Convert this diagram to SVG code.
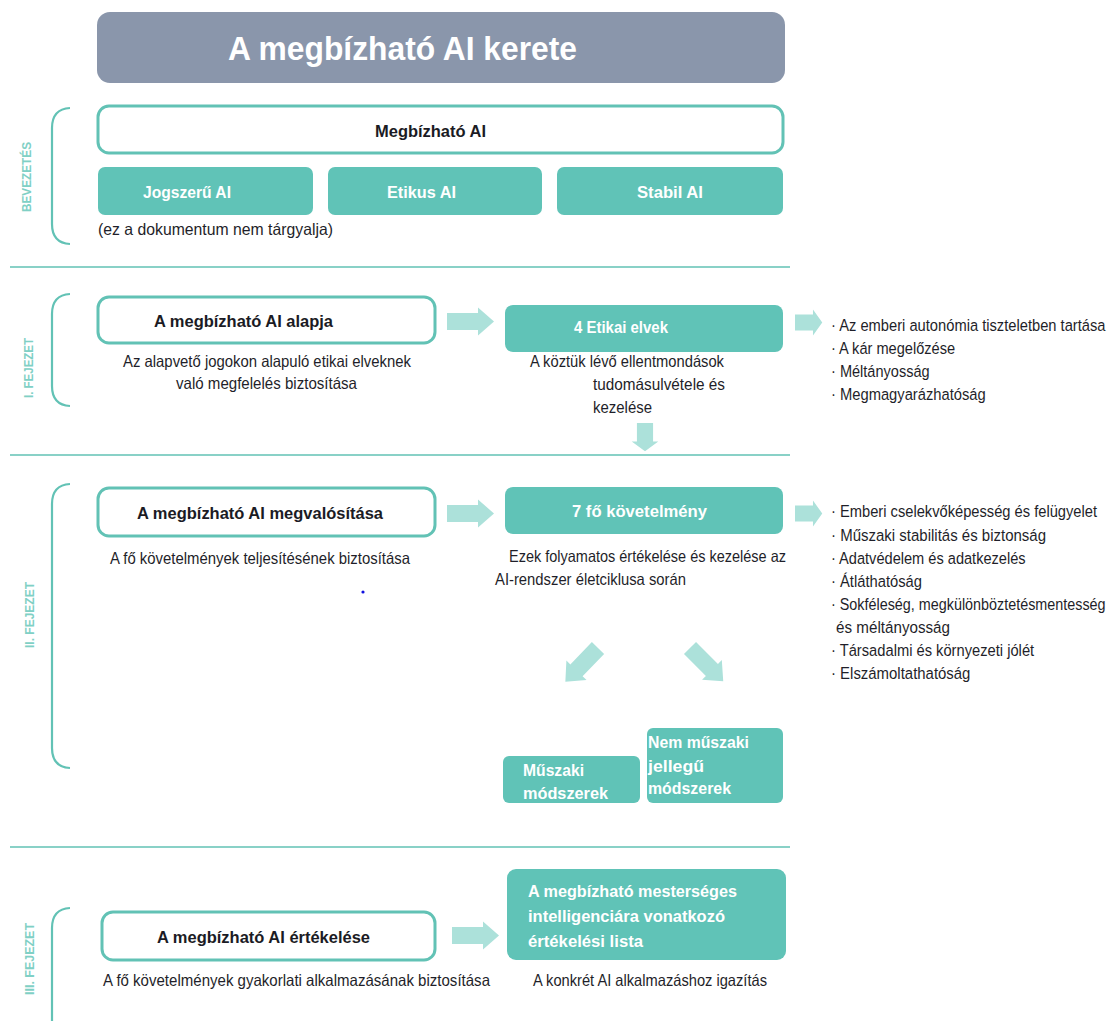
<svg xmlns="http://www.w3.org/2000/svg" width="1113" height="1021" viewBox="0 0 1113 1021">
<style>
.wbox{fill:#ffffff;stroke:#62c2b5;stroke-width:3}
.tbox{fill:#60c3b7}
.arr{fill:#ace1da}
.brk{fill:none;stroke:#62c2b5;stroke-width:2.2}
.sep{stroke:#62c2b5;stroke-width:1.6}
.lbl{font-family:"Liberation Sans",Arial,sans-serif;font-weight:bold;font-size:12px;fill:#80d0c5;text-anchor:middle}
.bt{font-family:"Liberation Sans",Arial,sans-serif;font-weight:bold;font-size:17px;fill:#1b1b24}
.wt{font-family:"Liberation Sans",Arial,sans-serif;font-weight:bold;font-size:17px;fill:#ffffff}
.tx{font-family:"Liberation Sans",Arial,sans-serif;font-size:16.5px;fill:#1f1f2a}
.ls{font-family:"Liberation Sans",Arial,sans-serif;font-size:16.5px;fill:#1f1f2a}
</style>
<defs>
<path id="arrow" d="M0,-8.5 L31,-8.5 L31,-14 L47,0 L31,14 L31,8.5 L0,8.5 Z"/>
</defs>
<rect width="1113" height="1021" fill="#ffffff"/>

<g id="title">
<rect x="97" y="12" width="688" height="71" rx="13" fill="#8a96ab"/>
<text x="228" y="60" font-family="'Liberation Sans',Arial,sans-serif" font-weight="bold" font-size="33" fill="#ffffff" textLength="349" lengthAdjust="spacingAndGlyphs">A megbízható AI kerete</text>
</g>

<g id="separators">
<line class="sep" x1="10" y1="267" x2="790" y2="267"/>
<line class="sep" x1="10" y1="455" x2="790" y2="455"/>
<line class="sep" x1="10" y1="847" x2="790" y2="847"/>
</g>

<g id="brackets">
<path class="brk" d="M70,108 Q52,109 52,128 L52,224 Q52,243 70,244"/>
<path class="brk" d="M70,294 Q52,295 52,314 L52,386 Q52,405 70,406"/>
<path class="brk" d="M70,484 Q52,485 52,504 L52,748 Q52,767 70,768"/>
<path class="brk" d="M70,908 Q52,909 52,928 L52,1021"/>
<text class="lbl" transform="translate(31,177) rotate(-90)" textLength="70" lengthAdjust="spacingAndGlyphs">BEVEZETÉS</text>
<text class="lbl" transform="translate(33,368) rotate(-90)" textLength="60" lengthAdjust="spacingAndGlyphs">I. FEJEZET</text>
<text class="lbl" transform="translate(34,615) rotate(-90)" textLength="66" lengthAdjust="spacingAndGlyphs">II. FEJEZET</text>
<text class="lbl" transform="translate(34,959) rotate(-90)" textLength="72" lengthAdjust="spacingAndGlyphs">III. FEJEZET</text>
</g>

<g id="intro">
<g id="n-megbizhato">
<rect class="wbox" x="98" y="106" width="685" height="47" rx="11"/>
<text class="bt" x="375" y="137" textLength="111" lengthAdjust="spacingAndGlyphs">Megbízható AI</text>
</g>
<g id="n-jogszeru">
<rect class="tbox" x="98" y="167" width="215" height="48" rx="7"/>
<text class="wt" x="143" y="198" textLength="88" lengthAdjust="spacingAndGlyphs">Jogszerű AI</text>
</g>
<g id="n-etikus">
<rect class="tbox" x="328" y="167" width="214" height="48" rx="7"/>
<text class="wt" x="387" y="198" textLength="69" lengthAdjust="spacingAndGlyphs">Etikus AI</text>
</g>
<g id="n-stabil">
<rect class="tbox" x="557" y="167" width="226" height="48" rx="7"/>
<text class="wt" x="637" y="198" textLength="66" lengthAdjust="spacingAndGlyphs">Stabil AI</text>
</g>
<text class="tx" x="98" y="235" textLength="235" lengthAdjust="spacingAndGlyphs">(ez a dokumentum nem tárgyalja)</text>
</g>

<g id="chapter1">
<g id="n-alapja">
<rect class="wbox" x="98" y="297" width="337" height="46" rx="11"/>
<text class="bt" x="154" y="327" textLength="179" lengthAdjust="spacingAndGlyphs">A megbízható AI alapja</text>
</g>
<text class="tx" x="123" y="367" textLength="288" lengthAdjust="spacingAndGlyphs">Az alapvető jogokon alapuló etikai elveknek</text>
<text class="tx" x="176" y="389" textLength="181" lengthAdjust="spacingAndGlyphs">való megfelelés biztosítása</text>
<g id="n-etikai">
<rect class="tbox" x="505" y="305" width="278" height="47" rx="8"/>
<text class="wt" x="574" y="333" textLength="94" lengthAdjust="spacingAndGlyphs">4 Etikai elvek</text>
</g>
<text class="tx" x="530" y="367" textLength="194" lengthAdjust="spacingAndGlyphs">A köztük lévő ellentmondások</text>
<text class="tx" x="593" y="390" textLength="132" lengthAdjust="spacingAndGlyphs">tudomásulvétele és</text>
<text class="tx" x="593" y="413" textLength="59" lengthAdjust="spacingAndGlyphs">kezelése</text>
<g id="list1" transform="translate(831,0) scale(0.85,1)">
<text class="ls" x="0" y="331" textLength="323" lengthAdjust="spacingAndGlyphs">· Az emberi autonómia tiszteletben tartása</text>
<text class="ls" x="0" y="354" textLength="146" lengthAdjust="spacingAndGlyphs">· A kár megelőzése</text>
<text class="ls" x="0" y="377" textLength="116" lengthAdjust="spacingAndGlyphs">· Méltányosság</text>
<text class="ls" x="0" y="400" textLength="182" lengthAdjust="spacingAndGlyphs">· Megmagyarázhatóság</text>
</g>
</g>

<g id="chapter2">
<g id="n-megvalositasa">
<rect class="wbox" x="98" y="488" width="337" height="48" rx="11"/>
<text class="bt" x="137" y="519" textLength="246" lengthAdjust="spacingAndGlyphs">A megbízható AI megvalósítása</text>
</g>
<text class="tx" x="110" y="564" textLength="300" lengthAdjust="spacingAndGlyphs">A fő követelmények teljesítésének biztosítása</text>
<circle cx="363" cy="592" r="1.6" fill="#1010e0"/>
<g id="n-kovetelmeny">
<rect class="tbox" x="505" y="487" width="278" height="47" rx="8"/>
<text class="wt" x="572" y="517" textLength="135" lengthAdjust="spacingAndGlyphs">7 fő követelmény</text>
</g>
<text class="tx" x="509" y="562" textLength="277" lengthAdjust="spacingAndGlyphs">Ezek folyamatos értékelése és kezelése az</text>
<text class="tx" x="495" y="585" textLength="191" lengthAdjust="spacingAndGlyphs">AI-rendszer életciklusa során</text>
<g id="list2" transform="translate(831,0) scale(0.85,1)">
<text class="ls" x="0" y="517" textLength="313" lengthAdjust="spacingAndGlyphs">· Emberi cselekvőképesség és felügyelet</text>
<text class="ls" x="0" y="541" textLength="253" lengthAdjust="spacingAndGlyphs">· Műszaki stabilitás és biztonság</text>
<text class="ls" x="0" y="564" textLength="229" lengthAdjust="spacingAndGlyphs">· Adatvédelem és adatkezelés</text>
<text class="ls" x="0" y="587" textLength="107" lengthAdjust="spacingAndGlyphs">· Átláthatóság</text>
<text class="ls" x="0" y="610" textLength="323" lengthAdjust="spacingAndGlyphs">· Sokféleség, megkülönböztetésmentesség</text>
<text class="ls" x="6" y="633" textLength="134" lengthAdjust="spacingAndGlyphs">és méltányosság</text>
<text class="ls" x="0" y="656" textLength="239" lengthAdjust="spacingAndGlyphs">· Társadalmi és környezeti jólét</text>
<text class="ls" x="0" y="679" textLength="164" lengthAdjust="spacingAndGlyphs">· Elszámoltathatóság</text>
</g>
<g id="n-muszaki">
<rect class="tbox" x="503" y="756" width="137" height="47" rx="6"/>
<text class="wt" x="523" y="776" textLength="61" lengthAdjust="spacingAndGlyphs">Műszaki</text>
<text class="wt" x="523" y="799" textLength="85" lengthAdjust="spacingAndGlyphs">módszerek</text>
</g>
<g id="n-nemmuszaki">
<rect class="tbox" x="647" y="728" width="136" height="75" rx="6"/>
<text class="wt" x="648" y="748" textLength="101" lengthAdjust="spacingAndGlyphs">Nem műszaki</text>
<text class="wt" x="648" y="772" textLength="56" lengthAdjust="spacingAndGlyphs">jellegű</text>
<text class="wt" x="648" y="794" textLength="83" lengthAdjust="spacingAndGlyphs">módszerek</text>
</g>
</g>

<g id="chapter3">
<g id="n-ertekelese">
<rect class="wbox" x="102" y="912" width="333" height="48" rx="11"/>
<text class="bt" x="157" y="943" textLength="213" lengthAdjust="spacingAndGlyphs">A megbízható AI értékelése</text>
</g>
<text class="tx" x="103" y="986" textLength="387" lengthAdjust="spacingAndGlyphs">A fő követelmények gyakorlati alkalmazásának biztosítása</text>
<g id="n-lista">
<rect class="tbox" x="507" y="869" width="279" height="91" rx="9"/>
<text class="wt" x="528" y="897" textLength="209" lengthAdjust="spacingAndGlyphs">A megbízható mesterséges</text>
<text class="wt" x="528" y="922" textLength="197" lengthAdjust="spacingAndGlyphs">intelligenciára vonatkozó</text>
<text class="wt" x="528" y="947" textLength="115" lengthAdjust="spacingAndGlyphs">értékelési lista</text>
</g>
<text class="tx" x="533" y="986" textLength="234" lengthAdjust="spacingAndGlyphs">A konkrét AI alkalmazáshoz igazítás</text>
</g>

<g id="connectors">
<use href="#arrow" class="arr" transform="translate(447,321.5)"/>
<use href="#arrow" class="arr" transform="translate(795,322.5) scale(0.58,0.93)"/>
<use href="#arrow" class="arr" transform="translate(645,423) rotate(90) scale(0.6,0.95)"/>
<use href="#arrow" class="arr" transform="translate(447,513.5)"/>
<use href="#arrow" class="arr" transform="translate(795,513.5) scale(0.58,0.93)"/>
<use href="#arrow" class="arr" transform="translate(598,648) rotate(134)"/>
<use href="#arrow" class="arr" transform="translate(690,648) rotate(45)"/>
<use href="#arrow" class="arr" transform="translate(452,935.5)"/>
</g>
</svg>
